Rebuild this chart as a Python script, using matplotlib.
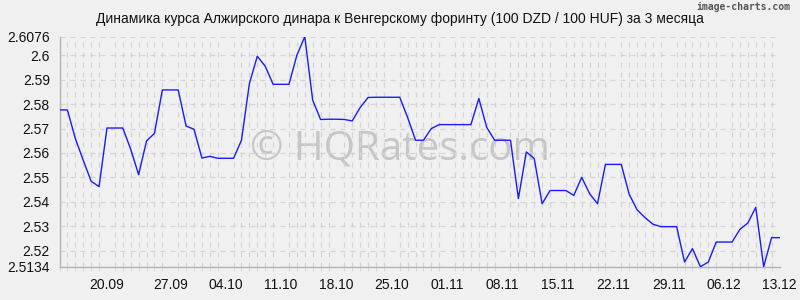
import matplotlib.pyplot as plt
import numpy as np

# daily rate, 100 DZD / 100 HUF, 13.09 .. 13.12
rates = [
    2.5776, 2.5776, 2.5659, 2.5570, 2.5484, 2.5462, 2.5702, 2.5702, 2.5702, 2.5615,
    2.5511, 2.5649, 2.5680, 2.5858, 2.5858, 2.5858, 2.5710, 2.5697, 2.5579, 2.5586,
    2.5578, 2.5578, 2.5578, 2.5652, 2.5884, 2.5996, 2.5955, 2.5881, 2.5881, 2.5881,
    2.6000, 2.6076, 2.5816, 2.5737, 2.5738, 2.5738, 2.5737, 2.5731, 2.5786, 2.5827,
    2.5828, 2.5828, 2.5828, 2.5828, 2.5745, 2.5652, 2.5652, 2.5700, 2.5716, 2.5716,
    2.5716, 2.5716, 2.5716, 2.5823, 2.5704, 2.5652, 2.5652, 2.5652, 2.5413, 2.5604,
    2.5577, 2.5392, 2.5446, 2.5446, 2.5446, 2.5426, 2.5500, 2.5433, 2.5392, 2.5553,
    2.5553, 2.5553, 2.5431, 2.5367, 2.5335, 2.5308, 2.5298, 2.5298, 2.5298, 2.5153,
    2.5208, 2.5134, 2.5153, 2.5235, 2.5235, 2.5235, 2.5287, 2.5313, 2.5377, 2.5134,
    2.5253, 2.5253,
]

x_tick_pos = [6, 14, 21, 28, 35, 42, 49, 56, 63, 70, 77, 84, 91]
x_tick_labels = ["20.09", "27.09", "04.10", "11.10", "18.10", "25.10", "01.11",
                 "08.11", "15.11", "22.11", "29.11", "06.12", "13.12"]
y_ticks = [2.5134, 2.52, 2.53, 2.54, 2.55, 2.56, 2.57, 2.58, 2.59, 2.6, 2.6076]

title = ("Динамика курса Алжирского динара к Венгерскому форинту "
         "(100 DZD / 100 HUF) за 3 месяца")

bg = "#f0f0f0"
grid_c = "#d4d4d4"
plt.rcParams["font.family"] = ["Liberation Sans", "DejaVu Sans"]

fig = plt.figure(figsize=(8, 3), dpi=100, facecolor=bg)
ax = fig.add_axes([59.5 / 800, 1 - 266.7 / 300, 720 / 800, 230 / 300])
ax.set_facecolor(bg)

x = np.arange(len(rates))
ax.plot(x, rates, color="#1a1aff", lw=1.0, zorder=3)

ax.set_xlim(0, len(rates) - 1)
ax.set_ylim(min(y_ticks), max(y_ticks))

ax.set_yticks(y_ticks)
ax.set_yticklabels([f"{v:g}" for v in y_ticks])
ax.set_xticks(x_tick_pos)
ax.set_xticklabels(x_tick_labels)
ax.set_xticks(x, minor=True)

dash = (0, (4, 4))
ax.grid(axis="y", which="major", ls=dash, color=grid_c, lw=0.9)
ax.grid(axis="x", which="minor", ls=dash, color=grid_c, lw=0.9)
ax.grid(axis="x", which="major", visible=False)

for side in ("top", "right"):
    ax.spines[side].set_visible(False)
for side in ("left", "bottom"):
    ax.spines[side].set_color("#b4b4b4")
    ax.spines[side].set_linewidth(1)

ax.tick_params(axis="x", which="major", length=0, pad=8, labelsize=10, colors="#111111")
ax.tick_params(axis="x", which="minor", length=3, color=grid_c)
ax.tick_params(axis="y", length=0, pad=7, labelsize=10, colors="#111111")

ax.text(0.5, 1 - 160 / 300, "© HQRates.com", transform=fig.transFigure,
        ha="center", va="baseline", fontsize=29, color="#c6c6c6",
        family=["Open Sans", "DejaVu Sans"], zorder=1)

fig.text(0.5, 1 - 23 / 300, title, ha="center", va="baseline",
         fontsize=10, color="#111111")
fig.text(0.988, 1 - 10 / 300, "image-charts.com", ha="right", va="baseline",
         fontsize=7, color="#555555", family="DejaVu Sans Mono", weight="bold")

fig.savefig("out.png", dpi=100, facecolor=bg)
